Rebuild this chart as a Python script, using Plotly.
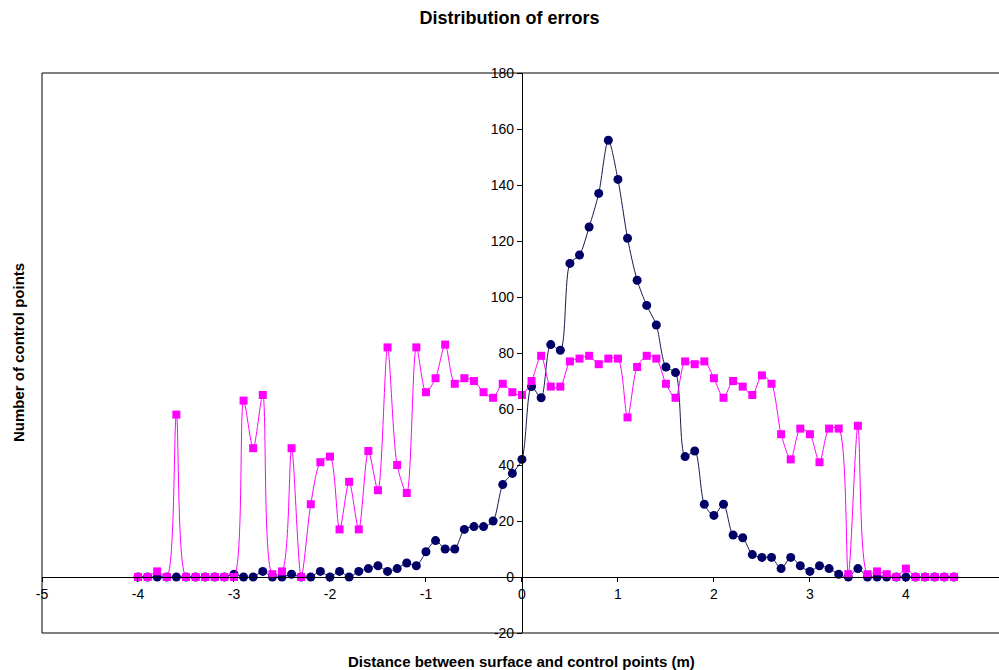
import plotly.graph_objects as go

# x positions (m), step 0.1 from -4.0 to 4.5
x_vals = [round(-4.0 + 0.1 * i, 1) for i in range(86)]

series1 = [  # dark blue circles
    0, 0, 0, 0, 0, 0, 0, 0, 0, 0,          # -4.0 .. -3.1
    1, 0, 0, 2, 0, 0, 1, 0, 0, 2,          # -3.0 .. -2.1
    0, 2, 0, 2, 3, 4, 2, 3, 5, 4,          # -2.0 .. -1.1
    9, 13, 10, 10, 17, 18, 18, 20, 33, 37, # -1.0 .. -0.1
    42, 68, 64, 83, 81, 112, 115, 125, 137, 156,  # 0.0 .. 0.9
    142, 121, 106, 97, 90, 75, 73, 43, 45, 26,    # 1.0 .. 1.9
    22, 26, 15, 14, 8, 7, 7, 3, 7, 4,             # 2.0 .. 2.9
    2, 4, 3, 1, 0, 3, 0, 0, 0, 0,                 # 3.0 .. 3.9
    0, 0, 0, 0, 0, 0,                             # 4.0 .. 4.5
]

series2 = [  # magenta squares
    0, 0, 2, 0, 58, 0, 0, 0, 0, 0,          # -4.0 .. -3.1
    0, 63, 46, 65, 1, 2, 46, 0, 26, 41,     # -3.0 .. -2.1
    43, 17, 34, 17, 45, 31, 82, 40, 30, 82, # -2.0 .. -1.1
    66, 71, 83, 69, 71, 70, 66, 64, 69, 66, # -1.0 .. -0.1
    65, 70, 79, 68, 68, 77, 78, 79, 76, 78, # 0.0 .. 0.9
    78, 57, 75, 79, 78, 69, 64, 77, 76, 77, # 1.0 .. 1.9
    71, 64, 70, 68, 65, 72, 69, 51, 42, 53, # 2.0 .. 2.9
    51, 41, 53, 53, 1, 54, 1, 2, 1, 0,      # 3.0 .. 3.9
    3, 0, 0, 0, 0, 0,                       # 4.0 .. 4.5
]

x_ticks = [-5, -4, -3, -2, -1, 0, 1, 2, 3, 4, 5]
y_ticks = [-20, 0, 20, 40, 60, 80, 100, 120, 140, 160, 180]

x_range = [-5, 4.97]
y_range = [-20, 180]

font_family = "Liberation Sans, Arial, sans-serif"

fig = go.Figure()
fig.add_trace(go.Scatter(
    x=x_vals, y=series1, mode="lines+markers",
    line=dict(color="#1a1a50", width=1, shape="spline", smoothing=0.8),
    marker=dict(symbol="circle", size=9, color="#000066"),
    showlegend=False,
))
fig.add_trace(go.Scatter(
    x=x_vals, y=series2, mode="lines+markers",
    line=dict(color="#FF00FF", width=1, shape="spline", smoothing=0.8),
    marker=dict(symbol="square", size=8, color="#FF00FF"),
    showlegend=False,
))

y_axis_pos = (0 - x_range[0]) / (x_range[1] - x_range[0])
x_axis_pos = (0 - y_range[0]) / (y_range[1] - y_range[0])

fig.update_layout(
    width=999, height=670,
    margin=dict(l=42, r=0, t=73, b=37),
    paper_bgcolor="white", plot_bgcolor="white",
    font=dict(family=font_family, size=14, color="#000000"),
    title=dict(text="<b>Distribution of errors</b>", x=0.51, xanchor="center",
               y=1 - 18 / 670, yanchor="middle", yref="container",
               font=dict(size=18, family=font_family, color="#000000")),
    xaxis=dict(range=x_range, tickvals=x_ticks, ticktext=[str(v) for v in x_ticks],
               showgrid=False, zeroline=False, showline=True, linecolor="#000000",
               linewidth=1, ticks="outside", ticklen=4, tickcolor="#000000",
               anchor="free", position=x_axis_pos, tickfont=dict(size=14)),
    yaxis=dict(range=y_range, tickvals=y_ticks, ticktext=[str(v) for v in y_ticks],
               showgrid=False, zeroline=False, showline=True, linecolor="#000000",
               linewidth=1, ticks="outside", ticklen=5, tickcolor="#000000",
               anchor="free", position=y_axis_pos, tickfont=dict(size=14)),
    shapes=[
        dict(type="line", xref="paper", yref="paper", x0=0, x1=1, y0=1, y1=1,
             line=dict(color="#000000", width=1)),
        dict(type="line", xref="paper", yref="paper", x0=0, x1=1, y0=0, y1=0,
             line=dict(color="#000000", width=1)),
        dict(type="line", xref="paper", yref="paper", x0=0, x1=0, y0=0, y1=1,
             line=dict(color="#000000", width=1)),
    ],
    annotations=[
        dict(text="<b>Distance between surface and control points (m)</b>",
             xref="paper", yref="paper", x=0.501, y=-(661 - 633) / 560,
             xanchor="center", yanchor="middle", showarrow=False,
             font=dict(size=15, family=font_family, color="#000000")),
        dict(text="<b>Number of control points</b>",
             xref="paper", yref="paper", x=-(42 - 18) / 957, y=0.5,
             xanchor="center", yanchor="middle", showarrow=False, textangle=-90,
             font=dict(size=15, family=font_family, color="#000000")),
    ],
)

fig.write_html(
    "out.html",
    config={"displayModeBar": False},
    post_script="document.body.style.margin='0';document.body.style.padding='0';"
                "document.body.style.overflow='hidden';",
)
